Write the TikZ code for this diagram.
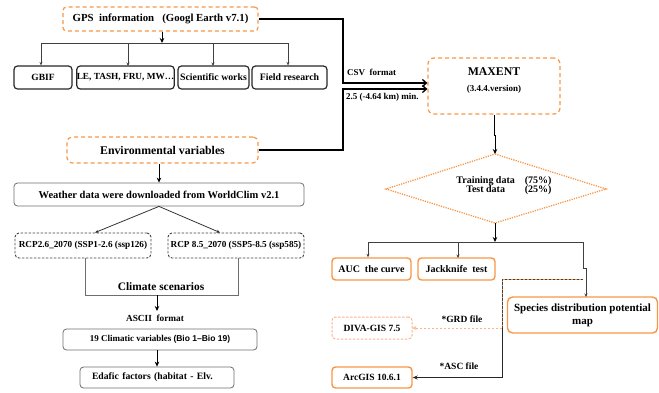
\documentclass[tikz,border=0pt]{standalone}
\usepackage{fontspec}
\setmainfont{Liberation Serif}
\newfontfamily\sansf{Liberation Sans}
\usetikzlibrary{arrows.meta}
\definecolor{org}{HTML}{F79646}
\definecolor{lorg}{HTML}{F9B48A}
\definecolor{gbord}{HTML}{6E6E6E}
\newcommand{\fs}[1]{\fontsize{#1}{#1}\selectfont\bfseries}
\tikzset{
  bx/.style n args={2}{minimum width=#1pt, minimum height=#2pt, inner sep=0pt, rounded corners=3.5pt, align=center},
  blk/.style={draw=black!85, line width=1.2pt},
  gry/.style={draw=gbord, line width=0.8pt},
  orgd/.style={draw=org, line width=1.2pt, dashed, dash pattern=on 4pt off 3pt},
  orgs/.style={draw=org, line width=1.4pt},
  blkd/.style={draw=black!75, line width=0.9pt, dash pattern=on 2.5pt off 1.5pt},
  bus/.style={draw=black!75, line width=0.7pt},
  sarr/.style={-{Stealth[length=3.5pt,width=3pt]}},
  marr/.style={-{Stealth[length=5pt,width=4.5pt]}, line width=1pt},
  barb/.style={-{Straight Barb[length=4pt,width=7pt]}, line width=1.3pt},
  lbl/.style={inner sep=0pt}
}
\begin{document}
\begin{tikzpicture}[x=1pt,y=-1pt]
\useasboundingbox (0,0) rectangle (659,392);
% ---- top left
\node[bx={195}{24}, orgd] (gps) at (160.5,19) {\fs{10.8}GPS\ \ information\ \ \ (Googl Earth v7.1)};
\node[bx={58}{23}, blk] (gbif) at (43,77.5) {\fs{9.5}GBIF};
\node[bx={97}{23}, blk] (le) at (125.5,77.5) {\fs{9.3}LE, TASH, FRU, MW…};
\node[bx={71}{23}, blk] (sw) at (213.5,77.5) {\fs{9.8}Scientific works};
\node[bx={75}{23}, blk] (fr) at (289.5,77.5) {\fs{9.8}Field research};
\coordinate (busA) at (162,43);
\coordinate (busL) at (41,43);
\coordinate (busR) at (288,43);
\draw[marr] (gps.south -| busA) -- (busA);
\draw[bus] (busL) -- (busR);
\draw[bus,sarr] (busL) -- (busL |- gbif.north);
\draw[bus,sarr] (128,43) -- (128,66);
\draw[bus,sarr] (213,43) -- (213,66);
\draw[bus,sarr] (busR) -- (busR |- fr.north);
% ---- MAXENT
\node[bx={132}{56}, orgd, rounded corners=6pt] (max) at (494,86) {};
\node[lbl] (maxt) at (494,72) {\fs{11.8}MAXENT};
\node[lbl] (maxv) at (494,89) {\fs{9}(3.4.4.version)};
\node[bx={191}{26}, orgd, rounded corners=5pt] (env) at (162.5,150) {\fs{11.8}Environmental variables};
\coordinate (j1) at (343,19);
\coordinate (j2) at (343,150);
\draw[barb] (gps.east) -- (j1) -- (j1 |- 0,83) -- ([yshift=3pt]max.west);
\draw[barb] (env.east) -- (j2) -- (j2 |- 0,89) -- ([yshift=-3pt]max.west);
\node[lbl, anchor=west] (csv) at (347,72) {\fs{9}CSV\ \ format};
\node[lbl, anchor=west] (res) at (346,97) {\fs{9}2.5 (-4.64 km) min.};
% ---- diamond
\coordinate (dT) at (495,154);
\coordinate (dB) at (495,223);
\coordinate (dL) at (386,189);
\coordinate (dR) at (606,189);
\draw[org, line width=1.3pt, dash pattern=on 1.2pt off 1.2pt] (dT) -- (dR) -- (dB) -- (dL) -- cycle;
\node[lbl] (dia) at (504,186) {\fs{10}\begin{tabular}{@{}c@{\hspace{10pt}}l@{}}Training data & (75\%)\\[-1.5pt] Test data & (25\%)\end{tabular}};
\draw[marr] (max.south) -- ++(0,21) -| (dT);
% ---- outputs
\node[bx={79}{22}, orgs] (auc) at (371.5,269) {\fs{10}AUC\ \ the curve};
\node[bx={77}{22}, orgs] (jack) at (456.5,269) {\fs{10}Jackknife\ \ test};
\node[bx={150}{36}, orgs, rounded corners=5pt] (spec) at (582.5,315) {\fs{11}Species distribution potential\\[1pt]\fs{11}map};
\node[bx={80}{22}, draw=lorg, line width=1pt, dash pattern=on 2.5pt off 1.5pt] (diva) at (372,328) {\fs{9.5}DIVA-GIS 7.5};
\node[bx={80}{21}, orgs] (arc) at (372,377.5) {\fs{9.5}ArcGIS 10.6.1};
\coordinate (b2) at (495,242);
\coordinate (b2L) at (368,242);
\coordinate (b2R) at (583,242);
\draw[marr] (dB) -- (b2);
\draw[bus] (b2L) -- (b2R);
\draw[bus,sarr] (b2L) -- (b2L |- auc.north);
\draw[bus,sarr] (458,242) -- (458,258);
\draw[bus,sarr] (b2R) -- (583,268) -- (586,268) -- (586,297);
\coordinate (s1) at (583,279);
\coordinate (s2) at (502,279);
\coordinate (s4) at (502,328);
\coordinate (s3) at (502,377.5);
\draw[draw=org, line width=0.9pt] (s1) -- (s2) -- (s4);
\draw[blkd, line width=1pt] (s1) -- (s2) -- (s4);
\draw[line width=1pt, black!85] (s4) -- (s3);
\draw[line width=1pt, black!85, -{Stealth[length=5pt,width=4pt]}] (s3) -- (arc.east);
\draw[draw=lorg, line width=1pt, dash pattern=on 2.5pt off 1.5pt, -{Stealth[length=4pt,width=4pt]}] (s4) -- (diva.east);
\node[lbl] (grd) at (462,319) {\fs{9.5}*GRD file};
\node[lbl] (asc) at (459,366) {\fs{9.5}*ASC file};
% ---- lower left
\node[bx={290}{23}, gry] (wea) at (159,194.5) {\fs{10.5}Weather data were downloaded from WorldClim v2.1};
\draw[marr] (wea.north |- env.south) -- (wea.north);
\node[bx={136}{25}, blkd, rounded corners=4pt] (r26) at (83,245.5) {\fs{9.2}RCP2.6\_2070 (SSP1-2.6 (ssp126)};
\node[bx={136}{25}, blkd, rounded corners=4pt] (r85) at (236,245.5) {\fs{9.2}RCP 8.5\_2070 (SSP5-8.5 (ssp585)};
\draw[line width=0.8pt, black!80, sarr] (wea.south) -- ([xshift=12pt]r26.north);
\draw[line width=0.8pt, black!80, sarr] (wea.south) -- ([xshift=-16pt]r85.north);
\coordinate (c1) at (85,295);
\coordinate (c2) at (238,295);
\draw[gry] (c1 |- r26.south) -- (c1) -- (c2) -- (c2 |- r85.south);
\node[lbl] (cs) at (161,287) {\fs{11.4}Climate scenarios};
\node[bx={194}{21}, gry] (clim) at (160,339.5) {\fs{9}19 Climatic variables {\sansf\fontsize{8.5}{8.5}\selectfont(Bio 1–Bio 19)}};
\node[lbl] (ascii) at (155,318) {\fs{9.3}ASCII\ \ format};
\draw[marr, line width=0.8pt] (157,295) -- (157,311);
\node[bx={154}{21}, gry, text width=130pt, align=left] (eda) at (157,377.5) {\fs{9.7}Edafic factors (habitat - Elv.};
\draw[marr, line width=0.8pt] (clim.south -| 157,0) -- (eda.north -| 157,0);
\end{tikzpicture}
\end{document}
